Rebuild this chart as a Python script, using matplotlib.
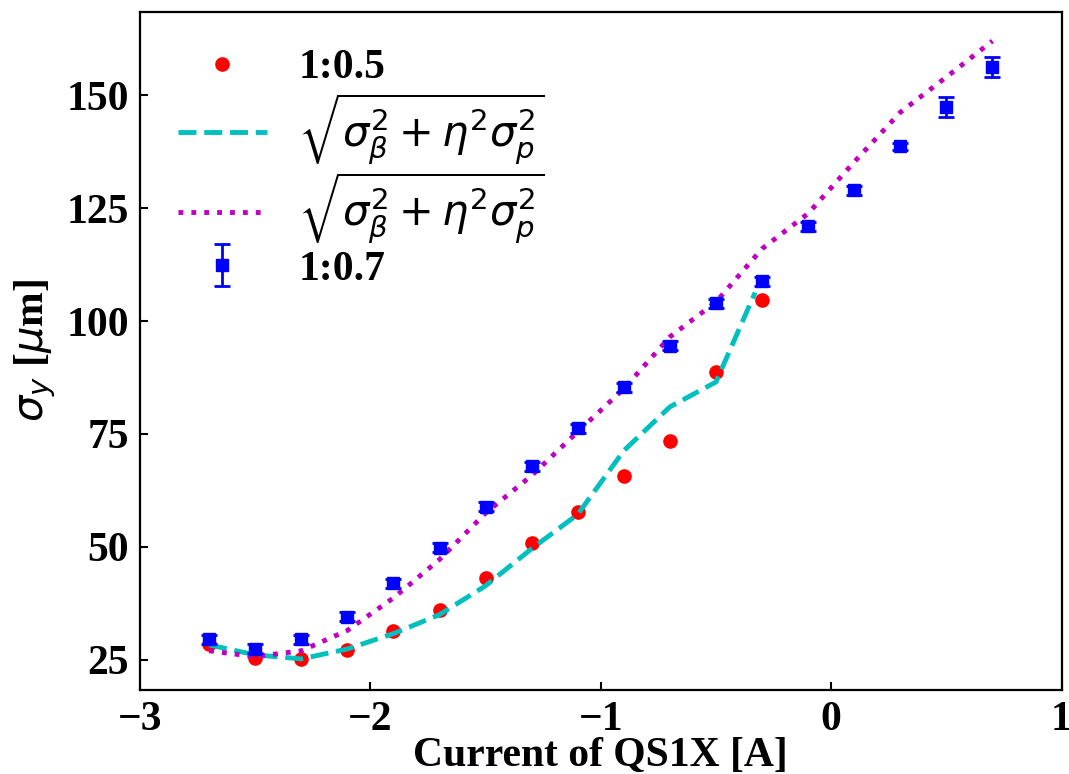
import numpy as np
import matplotlib
matplotlib.use("Agg")
import matplotlib.pyplot as plt

plt.rcParams['font.family'] = ['Liberation Serif', 'DejaVu Sans']
plt.rcParams['mathtext.fontset'] = 'dejavusans'

# Data
x_pts = [-2.7, -2.5, -2.3, -2.1, -1.9, -1.7, -1.5, -1.3, -1.1, -0.9, -0.7, -0.5, -0.3]
red_y = [28.4, 25.4, 25.2, 27.2, 31.4, 36.1, 43.1, 50.9, 57.8, 65.6, 73.5, 88.7, 104.6]

cyan_x = [-2.7, -2.5, -2.3, -2.1, -1.9, -1.7, -1.5, -1.3, -1.1, -0.9, -0.7, -0.5, -0.33]
cyan_y = [28.3, 26.1, 25.2, 27.4, 30.8, 35.0, 41.4, 49.6, 57.2, 71.3, 81.0, 86.5, 106.3]

mag_x = [-2.7, -2.5, -2.3, -2.1, -1.9, -1.7, -1.5, -1.3, -1.1, -0.9, -0.7, -0.5, -0.3,
         -0.1, 0.1, 0.3, 0.5, 0.7]
mag_y = [27.0, 25.7, 27.0, 31.5, 38.7, 47.2, 57.5, 65.8, 75.5, 85.0, 96.5, 104.2, 116.0,
         123.8, 135.2, 146.2, 154.0, 162.0]

blue_x = [-2.7, -2.5, -2.3, -2.1, -1.9, -1.7, -1.5, -1.3, -1.1, -0.9, -0.7, -0.5, -0.3,
          -0.1, 0.1, 0.3, 0.5, 0.7]
blue_y = [29.5, 27.5, 29.5, 34.5, 41.9, 49.8, 58.9, 67.8, 76.3, 85.3, 94.5, 103.9, 108.8,
          121.0, 129.0, 138.7, 147.3, 156.2]
blue_err = [1.0, 1.0, 1.0, 1.0, 1.0, 1.0, 1.0, 1.0, 1.0, 1.0, 1.0, 1.0, 1.0,
            1.0, 1.0, 0.8, 2.2, 2.2]

labels = ['1:0.5', r'$\sqrt{\sigma_\beta^2+\eta^2\sigma_p^2}$',
          r'$\sqrt{\sigma_\beta^2+\eta^2\sigma_p^2}$', '1:0.7']

FS = 30

fig = plt.figure(figsize=(10.69, 7.74), dpi=100)
ax = fig.add_axes([0.131, 0.109, 0.862, 0.876])

h1, = ax.plot(x_pts, red_y, 'o', color='red', markersize=9.5, label=labels[0])
h2, = ax.plot(cyan_x, cyan_y, '--', color='c', linewidth=3.5, label=labels[1])
h3, = ax.plot(mag_x, mag_y, ':', color='m', linewidth=3.5, label=labels[2])
h4 = ax.errorbar(blue_x, blue_y, yerr=blue_err, fmt='s', color='blue', markersize=9,
                 capsize=6, capthick=2, elinewidth=2, label=labels[3])

ax.set_xlim(-3, 1)
ax.set_ylim(18.4, 168.5)
ax.set_xticks([-3, -2, -1, 0, 1])
ax.set_yticks([25, 50, 75, 100, 125, 150])

ax.tick_params(direction='in', length=6, width=1.5, labelsize=FS, pad=8)
for lab in ax.get_xticklabels() + ax.get_yticklabels():
    lab.set_fontweight('bold')
for sp in ax.spines.values():
    sp.set_linewidth(1.6)

ax.set_xlabel('Current of QS1X [A]', fontsize=FS, fontweight='bold', labelpad=-1)
ax.set_ylabel(r'$\sigma_y$ [$\mu$m]', fontsize=FS, fontweight='bold', labelpad=6)

ax.legend(handles=[h1, h2, h3, h4], labels=labels, loc='upper left', frameon=False,
          handlelength=2.15, handletextpad=0.75, labelspacing=0.1,
          prop={'family': ['Liberation Serif', 'DejaVu Sans'], 'weight': 'bold', 'size': FS})

fig.savefig('out.png', dpi=100)
